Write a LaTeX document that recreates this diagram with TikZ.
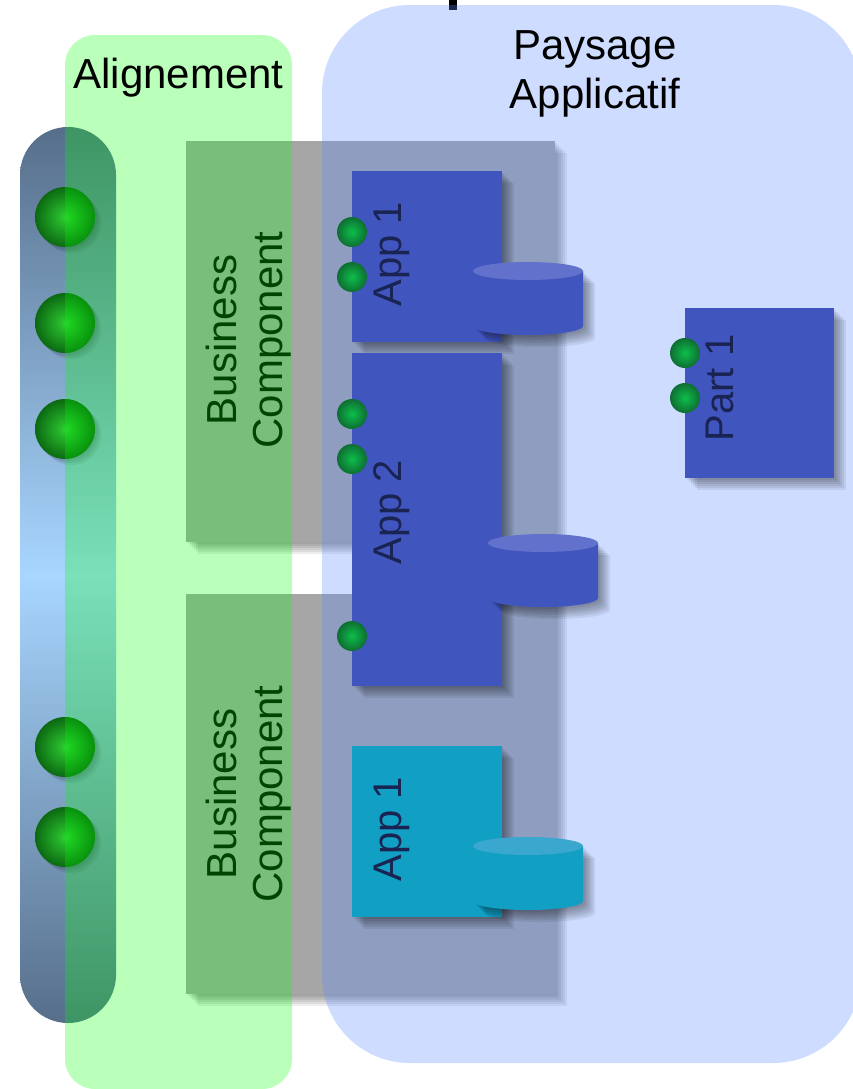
\documentclass[tikz,border=0pt]{standalone}
\usepackage{fontspec}
\setmainfont{Liberation Sans}
\usepackage{tikz}
\usetikzlibrary{fit}
\definecolor{slate}{RGB}{86,110,138}
\definecolor{skyblue}{RGB}{168,214,255}
\definecolor{bcgray}{RGB}{166,166,166}
\definecolor{alignfill}{RGB}{0,255,0}
\definecolor{paysfill}{RGB}{90,140,255}
\definecolor{appblue}{RGB}{65,85,191}
\definecolor{apptop}{RGB}{98,114,204}
\definecolor{appcyan}{RGB}{18,159,196}
\definecolor{cyantop}{RGB}{58,168,206}
\definecolor{labelnavy}{RGB}{25,36,82}
\definecolor{ballin}{RGB}{45,205,50}
\definecolor{ballout}{RGB}{12,105,18}
\definecolor{portin}{RGB}{13,190,75}
\definecolor{portout}{RGB}{14,110,50}
\tikzset{
  lbl/.style = {align=center, inner sep=0pt, font=\fontsize{31.5}{34.5}\selectfont},
  title_t/.style = {lbl, black, font=\fontsize{31.5}{36.75}\selectfont},
  sh/.style = {preaction={fill=black, draw=none, opacity=.07,
    transform canvas={shift={(#1,-#1)}}}},
  soft/.style = {sh=1.5pt, sh=3pt, sh=4.5pt, sh=6pt, sh=7.5pt, sh=9pt},
  bc_box/.style = {rectangle, fill=bcgray, inner sep=0pt, soft},% business component
  bc_t/.style = {lbl, black, rotate=90},
  app_box/.style = {rectangle, fill=appblue, inner sep=0pt, soft},
  app_c/.style = {app_box, fill=appcyan},
  app_t/.style = {lbl, labelnavy, rotate=90, font=\fontsize{30}{33}\selectfont},
  ball/.style = {circle, inner sep=0pt, minimum size=45pt, sh=1.5pt, sh=3pt, sh=4.5pt,
    inner color=ballin, outer color=ballout},
  port/.style = {circle, inner sep=0pt, minimum size=22.5pt, inner color=portin,
    outer color=portout},
}

\begin{document}
\begin{tikzpicture}[x=0.75pt,y=-0.75pt]
  \clip (0,0) rectangle (853,1089);
  \fill[white] (0,0) rectangle (853,1089);
  % capsule
  \path[rounded corners=36pt, top color=slate, bottom color=slate, middle color=skyblue]
    (20,127) rectangle (116,1023);
  \foreach \y/\n in {217/1, 323/2, 429/3, 747/4, 837/5}
  \node[ball] (b\n) at (65,\y) {};

  % business components
  \node[bc_box, fit={(186,141) (555,542)}] (bc1) {};
  \node[bc_box, fit={(186,594) (555,994)}] (bc2) {};
  \fill[bcgray] (502,540) rectangle (555,596);
  \node[bc_t] (bc1_t) at (249,340) {Business\\Component};
  \node[bc_t] (bc2_t) at (249,794) {Business\\Component};
  \fill[black] (449,0) rectangle (457,10);

  % overlays
  \fill[alignfill, opacity=0.27, rounded corners=22.5pt] (65,35) rectangle (292,1089);
  \fill[paysfill, opacity=0.3, rounded corners=66pt] (322,5) rectangle (861,1063);

  % applications
  \node[app_box, fit={(352,171) (502,342)}] (app1) {};
  \node[app_box, fit={(352,353) (502,686)}] (app2) {};
  \node[app_c, fit={(352,746) (502,917)}] (app3) {};
  \node[app_box, fit={(685,308) (834,478)}] (part1) {};
  \node[app_t] (app1_t) at (392,254) {App 1};
  \node[app_t] (app2_t) at (392,512) {App 2};
  \node[app_t] (app3_t) at (392,829) {App 1};
  \node[app_t] (part1_t) at (720,388) {Part 1};

  % data stores
  \fill[appblue, soft] (473,271) -- (473,326)
    arc[start angle=180, end angle=0, x radius=55, y radius=9] -- (583,271) -- cycle;
  \fill[apptop] (528,271) ellipse [x radius=55, y radius=9];
  \fill[appblue, soft] (488,543) -- (488,598)
    arc[start angle=180, end angle=0, x radius=55, y radius=9] -- (598,543) -- cycle;
  \fill[apptop] (543,543) ellipse [x radius=55, y radius=9];
  \fill[appcyan, soft] (473,846) -- (473,901)
    arc[start angle=180, end angle=0, x radius=55, y radius=9] -- (583,846) -- cycle;
  \fill[cyantop] (528,846) ellipse [x radius=55, y radius=9];

  % ports
  \node[port] (p1) at (352,232) {};
  \node[port] (p2) at (352,277) {};
  \node[port] (p3) at (352,414) {};
  \node[port] (p4) at (352,459) {};
  \node[port] (p5) at (352,636) {};
  \node[port] (p6) at (685,353) {};
  \node[port] (p7) at (685,398) {};

  % titles
  \node[title_t] (align_t) at (178.5,78) {Alignement};
  \node[title_t] (pays_t) at (595,74) {Paysage\\Applicatif};
\end{tikzpicture}
\end{document}
